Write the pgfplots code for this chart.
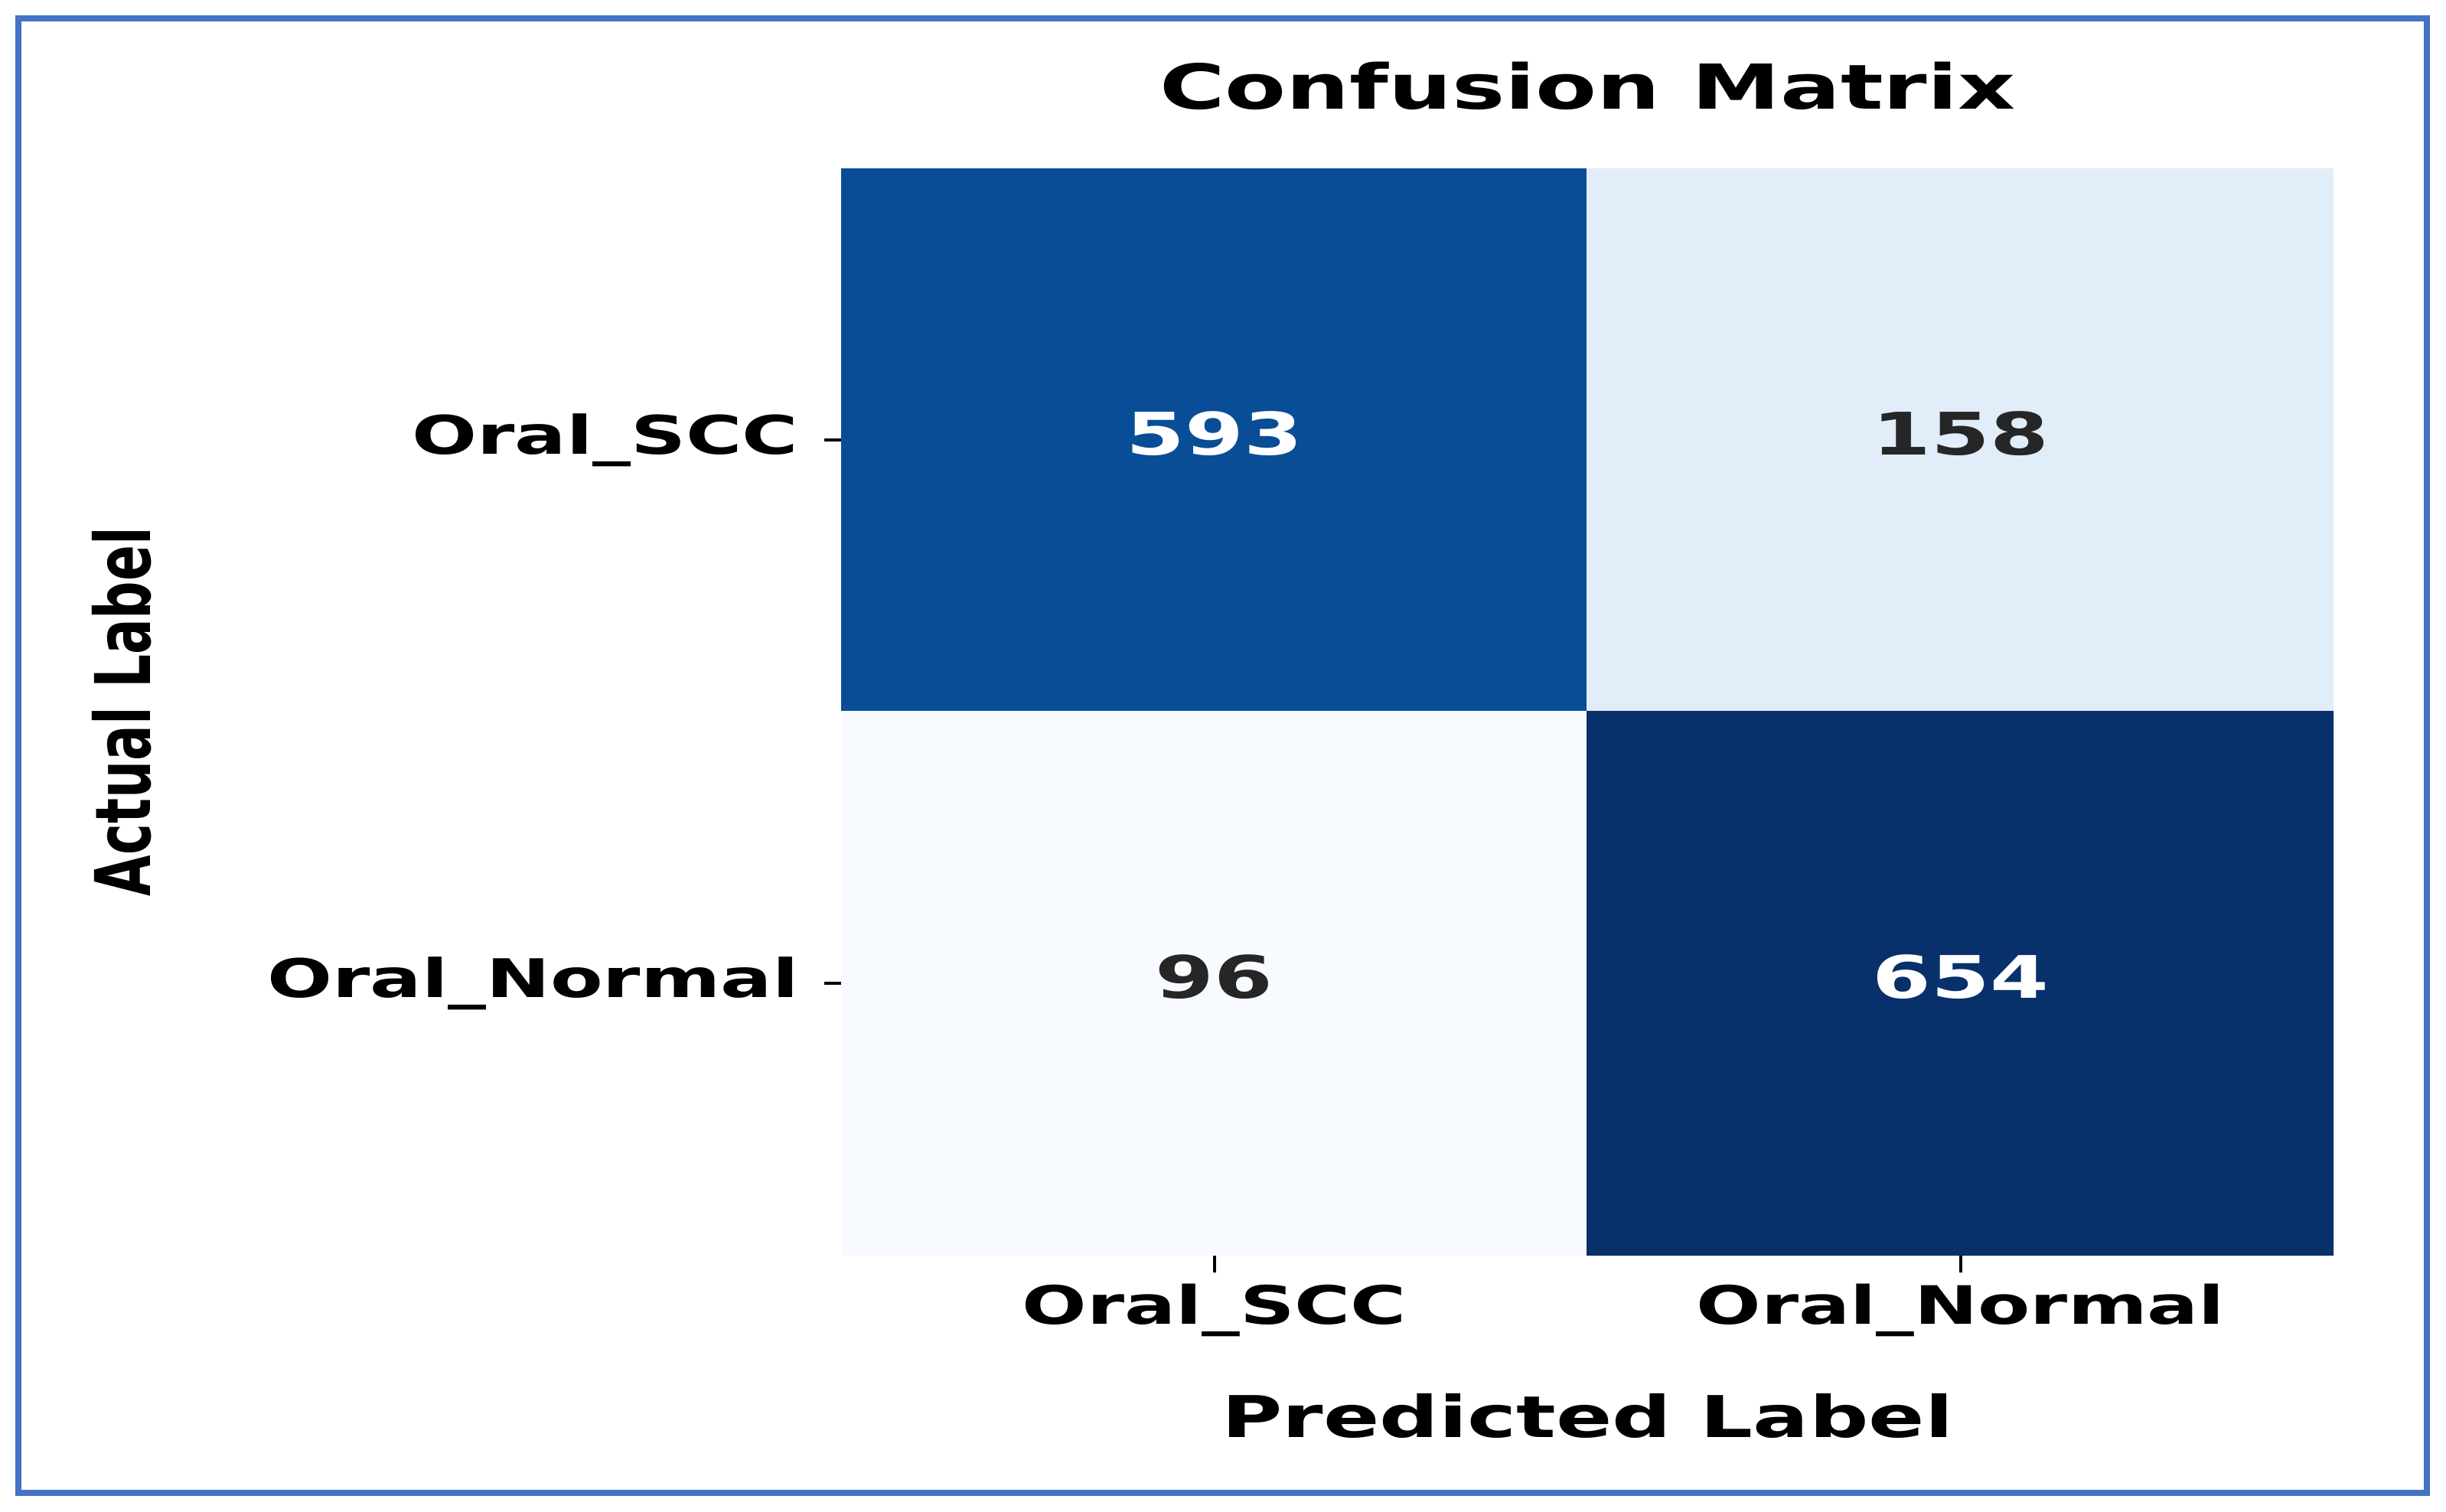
\documentclass[border=0pt]{standalone}
\usepackage{fontspec}
\usepackage{pgfplots}
\pgfplotsset{compat=1.18}
\usepackage{pgfplotstable}

% the source image is stretched sideways, so the fonts are too
\newfontfamily\wide[FakeStretch=1.44]{DejaVu Sans Bold}
\newfontfamily\tall[FakeStretch=0.69]{DejaVu Sans Bold}

\definecolor{framecol}{HTML}{4472C4}
\definecolor{darktxt}{HTML}{262626}

\pgfplotstableread{
x y c
0 0 593
1 0 158
0 1 96
1 1 654
}\cmdata

\pgfplotstableread{
x y lab
0 0 593
1 1 654
}\darkcells

\pgfplotstableread{
x y lab
1 0 158
0 1 96
}\lightcells

\begin{document}
\begin{tikzpicture}[x=1mm, y=1mm]
  % page extent and outer frame
  \path[use as bounding box] (-53.93,-16.43) rectangle (102.87,80.47);
  \draw[framecol, line width=0.38mm] (-52.76,-15.23) rectangle (101.64,79.3);

  \begin{axis}[
    at={(0,0)}, anchor=south west,
    scale only axis,
    width=95.67mm, height=69.67mm,
    xmin=-0.5, xmax=1.5,
    ymin=-0.5, ymax=1.5,
    y dir=reverse,
    axis line style={draw=none},
    xtick={0,1}, ytick={0,1},
    xticklabels={Oral\_SCC, Oral\_Normal},
    yticklabels={Oral\_SCC, Oral\_Normal},
    xtick pos=bottom, ytick pos=left,
    tick align=outside,
    major tick length=1.1mm,
    tick style={black, line width=0.6pt},
    xticklabel style={font=\wide\fontsize{9.65}{11}\selectfont, black, yshift=0.5mm},
    yticklabel style={font=\wide\fontsize{9.7}{11}\selectfont, black, xshift=-0.4mm},
    title={Confusion Matrix},
    title style={font=\wide\fontsize{11.3}{13}\selectfont, at={(axis description cs:0.5,1)}, anchor=base, yshift=1.7mm},
    xlabel={Predicted Label},
    xlabel style={font=\wide\fontsize{10.5}{12}\selectfont, at={(axis description cs:0.5,0)}, anchor=base, yshift=-11.7mm},
    ylabel={Actual Label},
    % the label is turned, so its own y points left on the page
    ylabel style={font=\tall\fontsize{14}{16}\selectfont, at={(axis description cs:0,0.5)}, anchor=center, yshift=46.1mm},
    colormap={blues}{rgb255=(247,251,255) rgb255=(222,235,247) rgb255=(198,219,239)
      rgb255=(158,202,225) rgb255=(107,174,214) rgb255=(66,146,198)
      rgb255=(33,113,181) rgb255=(8,81,156) rgb255=(8,48,107)},
    point meta min=96, point meta max=654,
  ]
    \addplot[matrix plot*, mesh/cols=2, mesh/rows=2, point meta=explicit]
      table[x=x, y=y, meta=c] {\cmdata};

    \addplot[draw=none, mark=none, nodes near coords, point meta=explicit symbolic,
      nodes near coords style={anchor=center, yshift=0.4mm, white, font=\wide\fontsize{10.7}{12}\selectfont}]
      table[x=x, y=y, meta=lab] {\darkcells};
    \addplot[draw=none, mark=none, nodes near coords, point meta=explicit symbolic,
      nodes near coords style={anchor=center, yshift=0.4mm, darktxt, font=\wide\fontsize{10.7}{12}\selectfont}]
      table[x=x, y=y, meta=lab] {\lightcells};
  \end{axis}
\end{tikzpicture}
\end{document}
